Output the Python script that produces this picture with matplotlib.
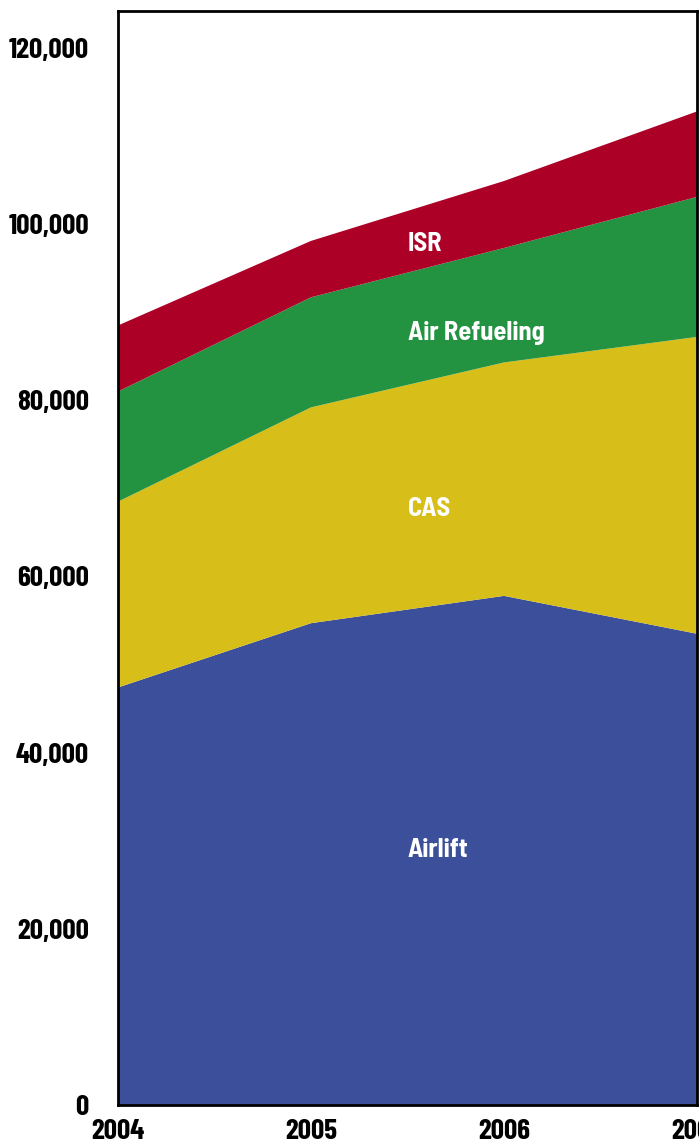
import matplotlib
matplotlib.use("Agg")
import matplotlib.pyplot as plt
from matplotlib.ticker import FuncFormatter

years = [2004, 2005, 2006, 2007]
airlift = [47400, 54700, 57800, 53500]
cas = [21100, 24500, 26500, 33700]
air_refueling = [12500, 12500, 13000, 15900]
isr = [7500, 6400, 7600, 9700]

labels = ["Airlift", "CAS", "Air Refueling", "ISR"]
colors = ["#3B4F9A", "#D8BE18", "#239342", "#AD0026"]
label_y = [29000, 67700, 87600, 97800]

tick_font = ["Barlow Condensed", "Archivo Narrow", "DejaVu Sans"]
label_font = ["Barlow Semi Condensed", "Liberation Sans", "DejaVu Sans"]

fig = plt.figure(figsize=(6.99, 11.43), dpi=100)
ax = fig.add_axes([118 / 699, 38 / 1143, 579 / 699, 1094 / 1143])

ax.stackplot(years, airlift, cas, air_refueling, isr, colors=colors, linewidth=0)

for lab, yy in zip(labels, label_y):
    ax.text(2005.5, yy, lab, color="white", fontsize=19, fontweight="bold",
            family=label_font, va="center", ha="left")

ax.set_xlim(2004, 2007)
ax.set_ylim(0, 124200)
ax.set_xticks(years)
ax.set_yticks(range(0, 120001, 20000))
ax.yaxis.set_major_formatter(FuncFormatter(lambda v, p: f"{int(v):,}"))

for t in ax.get_xticklabels() + ax.get_yticklabels():
    t.set_family(tick_font)
    t.set_fontweight("bold")
    t.set_fontsize(21)
ax.tick_params(length=0)
ax.tick_params(axis="y", pad=21)
ax.tick_params(axis="x", pad=10)

for s in ax.spines.values():
    s.set_linewidth(2)
    s.set_color("black")

fig.savefig("out.png", dpi=100)
